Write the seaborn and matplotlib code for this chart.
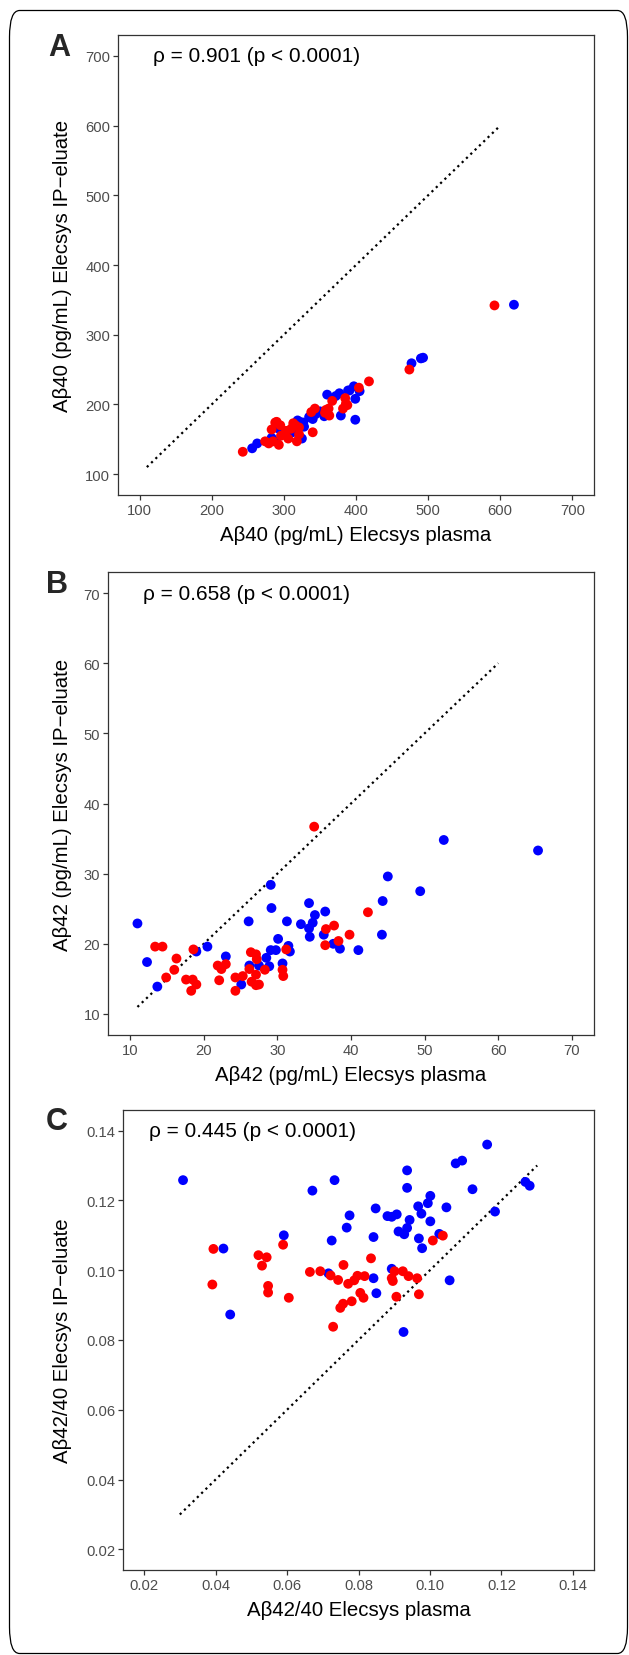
import numpy as np
import pandas as pd
import matplotlib
matplotlib.use('Agg')
import matplotlib.pyplot as plt
from matplotlib.patches import FancyBboxPatch
import seaborn as sns

# 資料 (從圖上讀取的估計值)
# A: Aβ40
a_blue_x = [256, 263, 283, 289, 293, 299, 305, 312, 319, 322, 325, 327, 328, 335, 338, 340, 344, 350,
            356, 360, 372, 377, 379, 389, 391, 397, 399, 399, 405, 477, 490, 493, 619]
a_blue_y = [137, 144, 152, 147, 165, 161, 155, 160, 177, 175, 151, 174, 168, 182, 181, 179, 186, 190,
            183, 214, 212, 216, 184, 220, 220, 226, 208, 178, 219, 259, 266, 267, 343]
a_red_x = [243, 274, 279, 283, 285, 288, 290, 293, 295, 296, 303, 306, 310, 313, 316, 318, 321, 321,
           338, 340, 343, 357, 358, 362, 363, 367, 382, 385, 386, 388, 404, 418, 474, 592]
a_red_y = [132, 147, 144, 164, 147, 174, 175, 142, 170, 155, 162, 151, 165, 173, 170, 147, 157, 167,
           189, 160, 194, 188, 192, 194, 184, 205, 194, 209, 201, 199, 224, 233, 250, 342]

# B: Aβ42
b_blue_x = [11.0, 12.3, 13.7, 19.0, 20.5, 23.0, 25.1, 26.1, 26.2, 27.5, 28.5, 28.9, 29.1, 29.2, 29.1,
            29.8, 30.1, 30.7, 31.3, 31.5, 31.7, 33.2, 34.3, 34.3, 34.4, 34.8, 35.1, 36.5, 36.3, 37.6,
            38.5, 41.0, 44.2, 44.3, 45.0, 49.4, 52.6, 65.4]
b_blue_y = [22.9, 17.4, 13.9, 18.9, 19.6, 18.2, 14.2, 23.2, 16.9, 16.9, 18.0, 16.8, 28.4, 25.1, 19.1,
            19.1, 20.7, 17.2, 23.2, 19.7, 18.9, 22.8, 25.8, 22.2, 21.0, 23.0, 24.1, 24.6, 21.3, 20.0,
            19.3, 19.1, 21.3, 26.1, 29.6, 27.5, 34.8, 33.3]
b_red_x = [35.0, 42.3, 39.8, 38.3, 37.7, 36.6, 36.5, 31.2, 30.7, 30.8, 28.3, 27.5, 27.1, 27.1, 26.5,
           26.4, 27.1, 27.2, 26.2, 25.3, 24.3, 24.3, 23.0, 22.4, 21.9, 22.1, 18.6, 18.5, 17.6, 19.0,
           18.3, 16.0, 16.3, 14.9, 13.4, 14.4]
b_red_y = [36.7, 24.5, 21.3, 20.4, 22.6, 22.1, 19.8, 19.2, 16.3, 15.4, 16.3, 14.2, 14.1, 15.6, 14.6,
           18.8, 18.5, 17.8, 16.4, 15.4, 15.2, 13.3, 17.1, 16.4, 16.9, 14.8, 19.2, 14.9, 14.9, 14.2,
           13.3, 16.3, 17.9, 15.2, 19.6, 19.6]

# C: Aβ42/40
c_blue_x = [0.0309, 0.0422, 0.0441, 0.0591, 0.0671, 0.0733, 0.0716, 0.0725, 0.0767, 0.0775, 0.0842,
            0.0842, 0.0848, 0.0850, 0.0881, 0.0893, 0.0907, 0.0912, 0.0893, 0.0926, 0.0928, 0.0936,
            0.0943, 0.0936, 0.0936, 0.0967, 0.0976, 0.0969, 0.0978, 0.0994, 0.1001, 0.1001, 0.1026,
            0.1046, 0.1055, 0.1072, 0.1090, 0.1119, 0.1160, 0.1182, 0.1267, 0.1279]
c_blue_y = [0.1258, 0.1062, 0.0873, 0.1100, 0.1228, 0.1258, 0.0991, 0.1085, 0.1122, 0.1157, 0.1095,
            0.0977, 0.1177, 0.0934, 0.1155, 0.1153, 0.1160, 0.1111, 0.1004, 0.0823, 0.1103, 0.1121,
            0.1144, 0.1236, 0.1286, 0.1183, 0.1162, 0.1091, 0.1063, 0.1192, 0.1213, 0.1140, 0.1104,
            0.1180, 0.0971, 0.1306, 0.1314, 0.1232, 0.1360, 0.1168, 0.1253, 0.1242]
c_red_x = [0.0394, 0.0391, 0.0520, 0.0530, 0.0543, 0.0547, 0.0547, 0.0589, 0.0605, 0.0664, 0.0693,
           0.0722, 0.0729, 0.0743, 0.0749, 0.0757, 0.0758, 0.0771, 0.0781, 0.0788, 0.0797, 0.0805,
           0.0814, 0.0817, 0.0835, 0.0893, 0.0896, 0.0901, 0.0906, 0.0924, 0.0940, 0.0964, 0.0969,
           0.1008, 0.1036]
c_red_y = [0.1061, 0.0959, 0.1043, 0.1013, 0.1037, 0.0955, 0.0936, 0.1073, 0.0921, 0.0995, 0.0997,
           0.0985, 0.0838, 0.0972, 0.0892, 0.0904, 0.1015, 0.0961, 0.0911, 0.0971, 0.0984, 0.0935,
           0.0921, 0.0983, 0.1034, 0.0977, 0.0969, 0.0997, 0.0924, 0.0997, 0.0983, 0.0977, 0.0931,
           0.1085, 0.1099]

panel_letters = ['A', 'B', 'C']
rho_texts = ['ρ = 0.901 (p < 0.0001)', 'ρ = 0.658 (p < 0.0001)', 'ρ = 0.445 (p < 0.0001)']
x_labels = ['Aβ40 (pg/mL) Elecsys plasma', 'Aβ42 (pg/mL) Elecsys plasma', 'Aβ42/40 Elecsys plasma']
y_labels = ['Aβ40 (pg/mL) Elecsys IP−eluate', 'Aβ42 (pg/mL) Elecsys IP−eluate',
            'Aβ42/40 Elecsys IP−eluate']
ticks_a = [100, 200, 300, 400, 500, 600, 700]
ticks_b = [10, 20, 30, 40, 50, 60, 70]
ticks_c = [0.02, 0.04, 0.06, 0.08, 0.10, 0.12, 0.14]
tick_labels_c = ['0.02', '0.04', '0.06', '0.08', '0.10', '0.12', '0.14']
line_a = [110, 600]
line_b = [11, 60]
line_c = [0.03, 0.13]

sns.set_style('white')
plt.rcParams['font.family'] = ['Liberation Sans', 'DejaVu Sans']

W, H = 629, 1656
fig = plt.figure(figsize=(W / 100, H / 100), dpi=100)

# 外框 (圓角)
frame = FancyBboxPatch((9.5 / W, 1 - 1654.5 / H), 618 / W, 1643 / H,
                       boxstyle='round,pad=0,rounding_size=0.016', transform=fig.transFigure,
                       facecolor='none', edgecolor='black', linewidth=0.9)
fig.patches.append(frame)


def make_ax(left, top, right, bottom):
    return fig.add_axes([left / W, 1 - bottom / H, (right - left) / W, (bottom - top) / H])


panels = [
    dict(rect=(118, 36, 594, 496), bx=a_blue_x, by=a_blue_y, rx=a_red_x, ry=a_red_y,
         lim=(70, 730), ticks=ticks_a, tlabels=[str(t) for t in ticks_a], line=line_a,
         rho_x=118, rho_y=700, letter_pos=(48, 33)),
    dict(rect=(108, 573, 594, 1036), bx=b_blue_x, by=b_blue_y, rx=b_red_x, ry=b_red_y,
         lim=(7, 73), ticks=ticks_b, tlabels=[str(t) for t in ticks_b], line=line_b,
         rho_x=11.8, rho_y=70, letter_pos=(46, 570)),
    dict(rect=(123, 1111, 594, 1571), bx=c_blue_x, by=c_blue_y, rx=c_red_x, ry=c_red_y,
         lim=(0.0141, 0.1459), ticks=ticks_c, tlabels=tick_labels_c, line=line_c,
         rho_x=0.0214, rho_y=0.14, letter_pos=(46, 1107)),
]

for i, p in enumerate(panels):
    left, top, right, bottom = p['rect']
    ax = make_ax(left, top, right, bottom)
    df = pd.DataFrame({
        'x': p['bx'] + p['rx'],
        'y': p['by'] + p['ry'],
        'grp': ['blue'] * len(p['bx']) + ['red'] * len(p['rx']),
    })
    # 對角虛線
    ax.plot(p['line'], p['line'], color='black', linewidth=1.6, dashes=(1, 1.7), zorder=1)
    sns.scatterplot(data=df, x='x', y='y', hue='grp', palette={'blue': '#0000FF', 'red': '#FF0000'},
                    s=50, linewidth=0, legend=False, ax=ax, zorder=2)
    ax.set_xlim(p['lim'])
    ax.set_ylim(p['lim'])
    ax.set_xticks(p['ticks'])
    ax.set_yticks(p['ticks'])
    ax.set_xticklabels(p['tlabels'])
    ax.set_yticklabels(p['tlabels'])
    ax.tick_params(axis='both', direction='out', length=3.5, width=0.9, color='#333333',
                   labelsize=10.6, labelcolor='#4D4D4D', pad=2, left=True, bottom=True)
    for sp in ax.spines.values():
        sp.set_color('#333333')
        sp.set_linewidth(0.9)
    ax.set_xlabel(x_labels[i], fontsize=14.7, color='black')
    ax.set_ylabel(y_labels[i], fontsize=14.7, color='black')
    w = right - left
    h = bottom - top
    ax.xaxis.set_label_coords(0.5, -30 / h)
    ax.yaxis.set_label_coords((72 - left) / w, 0.5)
    ax.text(p['rho_x'], p['rho_y'], rho_texts[i], fontsize=15, ha='left', va='center', color='black')
    fig.text(p['letter_pos'][0] / W, 1 - p['letter_pos'][1] / H, panel_letters[i],
             fontsize=22, fontweight='bold', ha='left', va='top')

fig.savefig('out.png', dpi=100)
